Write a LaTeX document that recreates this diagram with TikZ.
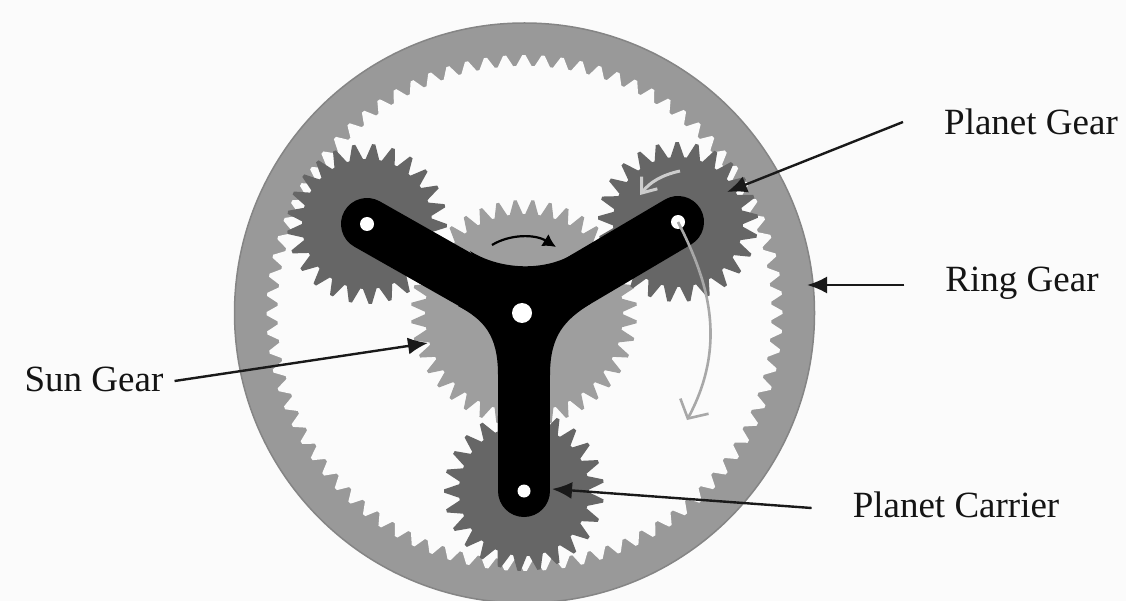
\documentclass[tikz,border=0pt]{standalone}
\usepackage{fontspec}
\setmainfont{Liberation Serif}
\usetikzlibrary{arrows.meta,calc}
\definecolor{paper}{gray}{0.985}
\definecolor{ringgray}{gray}{0.60}
\definecolor{ringedge}{gray}{0.52}
\definecolor{sungray}{gray}{0.62}
\definecolor{planetgray}{gray}{0.40}
\definecolor{inkblack}{gray}{0.0}
\definecolor{paleline}{gray}{0.66}
\definecolor{paleover}{gray}{0.80}
\newcommand{\gearpt}[5]{({#1+#3*cos(#4+(#5))},{#2+#3*sin(#4+(#5))})}
\newcommand{\gearshape}[7]{% cx cy teeth tip root phase colour
  \fill[#7,line join=round]
    \gearpt{#1}{#2}{#5}{#6}{0}
    \foreach \gi in {1,...,#3}{
      -- \gearpt{#1}{#2}{#5}{#6}{(\gi-1+0.08)/#3*360}
      -- \gearpt{#1}{#2}{#4}{#6}{(\gi-1+0.42)/#3*360}
      -- \gearpt{#1}{#2}{#4}{#6}{(\gi-1+0.58)/#3*360}
      -- \gearpt{#1}{#2}{#5}{#6}{(\gi-1+0.92)/#3*360}
      -- \gearpt{#1}{#2}{#5}{#6}{\gi/#3*360}
    } -- cycle;}
\tikzset{
  labeltext/.style={font=\fontsize{37}{40}\selectfont,text=black!92,inner sep=0pt},
  leader/.style={draw=black!90,line width=2.4pt,-{Latex[length=20pt,width=17pt]}},
  hole/.style={circle,fill=white,draw=none,inner sep=0pt},
  turnarrow/.style={line width=3pt,-{Straight Barb[length=13pt,width=20pt]}}
}
\begin{document}
\begin{tikzpicture}[x=1pt,y=-1pt]
\useasboundingbox (0,0) rectangle (1126,601);
\fill[paper] (0,0) rectangle (1126,601);
% ring gear
\fill[ringgray,draw=ringedge,line width=1.5pt] (524.5,313) circle[radius=290];
\gearshape{524.5}{313}{84}{258}{247}{2}{paper}
% sun gear
\gearshape{524}{313}{40}{113}{99}{0}{sungray}
% planet gears
\gearshape{367}{224}{25}{80}{65}{-6}{planetgray}
\gearshape{678}{222}{25}{80}{65}{3}{planetgray}
\gearshape{524}{491}{25}{80}{65}{0}{planetgray}
% carrier
\coordinate (hub) at (524,313);
\coordinate (armL) at (367,224);
\coordinate (armR) at (678,222);
\coordinate (armB) at (524,491);
\draw[inkblack,line width=52pt,line cap=round] (hub) -- (armL);
\draw[inkblack,line width=52pt,line cap=round] (hub) -- (armR);
\draw[inkblack,line width=52pt,line cap=round] (hub) -- (armB);
\fill[inkblack] (470,251) .. controls (500,270) and (545,272) .. (575,253)
  -- (524,330) -- cycle;
\fill[inkblack] (590,304) .. controls (565,320) and (550,335) .. (550,375)
  -- (524,375) -- (524,290) -- cycle;
\fill[inkblack] (458,306) .. controls (484,320) and (498,335) .. (498,375)
  -- (524,375) -- (524,290) -- cycle;
\node[hole,minimum size=14pt] (holeL) at (armL) {};
\node[hole,minimum size=14pt] (holeR) at (armR) {};
\node[hole,minimum size=13pt] (holeB) at (armB) {};
\node[hole,minimum size=20pt] (holeC) at (522,313) {};
% rotation arrows
\coordinate (sunA) at (492,245);
\coordinate (sunB) at (556,247);
\draw[inkblack,line width=2.2pt,-{Latex[length=13pt,width=14pt]}] (sunA) .. controls (510,234) and (535,234) .. (sunB);
\coordinate (plA) at (680,171);
\coordinate (plB) at (640,195);
\draw[paleover,turnarrow] (plA) .. controls (662,175) and (650,182) .. (plB);
\coordinate (orbB) at (687,420);
\draw[paleline,line width=2.6pt,-{Straight Barb[length=14pt,width=32pt]}] (holeR.center) .. controls (705,275) and (730,340) .. (orbB);
% labels
\node[labeltext] (pg) at (1031,122) {Planet Gear};
\node[labeltext] (rg) at (1022,283) {Ring Gear};
\node[labeltext] (sg) at (94,379) {Sun Gear};
\node[labeltext] (pc) at (956,505) {Planet Carrier};
\coordinate (pgT) at (727,192);
\coordinate (rgT) at (807,285);
\coordinate (sgT) at (428,343);
\coordinate (pcT) at (552,489);
\draw[leader] ($(pg.west)+(-41,0)$) -- (pgT);
\draw[leader] ($(rg.west)+(-41,2)$) -- (rgT);
\draw[leader] ($(sg.east)+(11,2)$) -- (sgT);
\draw[leader] ($(pc.west)+(-41,3)$) -- (pcT);
\end{tikzpicture}
\end{document}
